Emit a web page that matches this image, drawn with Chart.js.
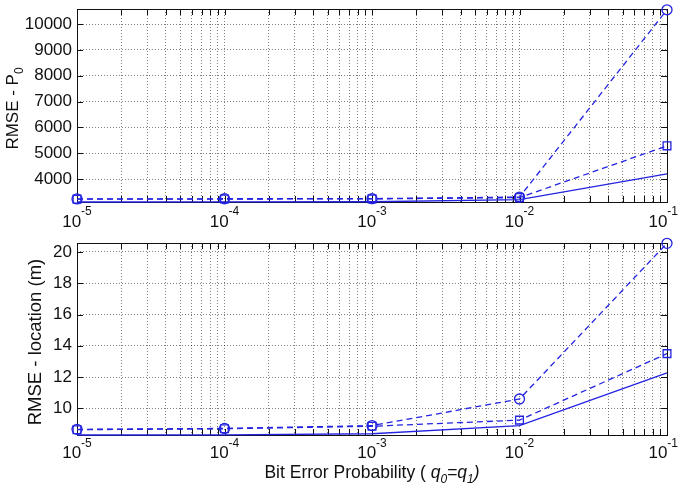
<!DOCTYPE html>
<html>
<head>
<meta charset="utf-8">
<script src="https://cdn.jsdelivr.net/npm/chart.js@4.4.0/dist/chart.umd.min.js"></script>
<style>
    body { margin: 0; background: #fff; }
    #wrap { position: relative; width: 679px; height: 488px; }
    .box { position: absolute; left: 0; width: 679px; }
</style>
</head>
<body>
<div id="wrap">
    <div class="box" style="top:0;height:234px"><canvas id="topChart"></canvas></div>
    <div class="box" style="top:234px;height:254px"><canvas id="bottomChart"></canvas></div>
</div>
<script>
// Données
const bitErrorProb = [1e-5, 1e-4, 1e-3, 1e-2, 1e-1];
const decades = [-5, -4, -3, -2, -1];
const decadeLabels = ['-5', '-4', '-3', '-2', '-1'];

// RMSE - P0
const p0Circle = [3240, 3245, 3250, 3310, 10550];
const p0Square = [3230, 3235, 3240, 3290, 5290];
const p0Solid = [3120, 3125, 3130, 3215, 4210];
const p0Range = [3120, 10580];
const p0Ticks = [4000, 5000, 6000, 7000, 8000, 9000, 10000];

// RMSE - location
const locCircle = [8.66, 8.72, 8.90, 10.6, 20.55];
const locSquare = [8.64, 8.70, 8.86, 9.25, 13.5];
const locSolid = [8.30, 8.31, 8.38, 8.9, 12.27];
const locRange = [8.30, 20.57];
const locTicks = [10, 12, 14, 16, 18, 20];

const blue = 'rgb(35,35,225)';
const fontFamily = "'Liberation Sans', Arial, sans-serif";

// Graduations log : 1..9 x 10^d
let xGrid = [];
for (let i = 0; i < decades.length; i++) {
    const d = decades[i];
    if (i === decades.length - 1) {
        xGrid.push(Math.pow(10, d));
    } else {
        for (let m = 1; m <= 9; m++) {
            xGrid.push(m * Math.pow(10, d));
        }
    }
}

// Texte avec indices / exposants (centré sur x, sans dépasser maxRight)
function drawRich(ctx, parts, x, y, maxRight) {
    let total = 0;
    for (let i = 0; i < parts.length; i++) {
        ctx.font = (parts[i].italic ? 'italic ' : '') + parts[i].size + 'px ' + fontFamily;
        parts[i].w = ctx.measureText(parts[i].text).width;
        total += parts[i].w;
    }
    let cx = x - total / 2;
    if (maxRight && cx + total > maxRight) {
        cx = maxRight - total;
    }
    for (let i = 0; i < parts.length; i++) {
        ctx.font = (parts[i].italic ? 'italic ' : '') + parts[i].size + 'px ' + fontFamily;
        ctx.fillText(parts[i].text, cx, y + (parts[i].dy || 0));
        cx += parts[i].w;
    }
}

// Cadre, graduations et textes façon MATLAB
const decorPlugin = {
    id: 'decor',
    beforeDatasetsDraw(chart) {
        const ctx = chart.ctx;
        const a = chart.chartArea;
        const xs = chart.scales.x;
        const ys = chart.scales.y;
        ctx.save();
        ctx.strokeStyle = '#111';
        ctx.lineWidth = 1;
        ctx.beginPath();
        xs.ticks.forEach(t => {
            const px = Math.round(xs.getPixelForValue(t.value)) + 0.5;
            ctx.moveTo(px, a.bottom);
            ctx.lineTo(px, a.bottom - 6);
            ctx.moveTo(px, a.top);
            ctx.lineTo(px, a.top + 6);
        });
        ys.ticks.forEach(t => {
            const py = Math.round(ys.getPixelForValue(t.value)) + 0.5;
            ctx.moveTo(a.left, py);
            ctx.lineTo(a.left + 6, py);
            ctx.moveTo(a.right, py);
            ctx.lineTo(a.right - 6, py);
        });
        ctx.stroke();
        ctx.strokeRect(Math.round(a.left) + 0.5, Math.round(a.top) + 0.5,
            Math.round(a.right - a.left), Math.round(a.bottom - a.top));
        ctx.restore();
    },
    afterDraw(chart, args, opts) {
        const ctx = chart.ctx;
        const a = chart.chartArea;
        const xs = chart.scales.x;
        ctx.save();
        ctx.fillStyle = '#111';
        ctx.textBaseline = 'alphabetic';
        ctx.textAlign = 'left';

        // Etiquettes 10^k
        for (let i = 0; i < decades.length; i++) {
            const px = xs.getPixelForValue(Math.pow(10, decades[i]));
            drawRich(ctx, [
                { text: '10', size: 17 },
                { text: decadeLabels[i], size: 12, dy: -opts.expRaise }
            ], px, a.bottom + opts.labelGap, chart.width - 1);
        }

        // Titre de l'axe Y
        ctx.translate(opts.yTitleX, (a.top + a.bottom) / 2 + 3);
        ctx.rotate(-Math.PI / 2);
        drawRich(ctx, opts.yTitle, 0, 6);
        ctx.setTransform(1, 0, 0, 1, 0, 0);

        // Titre de l'axe X
        if (opts.xTitle) {
            drawRich(ctx, opts.xTitle, (a.left + a.right) / 2, a.bottom + 43);
        }
        ctx.restore();
    }
};

function makeChart(id, circle, square, solid, range, ticks, pad, xHeight, decor) {
    return new Chart(document.getElementById(id), {
        type: 'line',
        data: {
            labels: bitErrorProb,
            datasets: [{
                data: circle,
                borderColor: blue,
                borderWidth: 1.3,
                borderDash: [6, 4],
                pointStyle: 'circle',
                pointRadius: 5,
                pointBorderWidth: 1.3,
                pointBorderColor: blue,
                pointBackgroundColor: 'rgba(0,0,0,0)',
                tension: 0,
                clip: false
            }, {
                data: square,
                borderColor: blue,
                borderWidth: 1.3,
                borderDash: [6, 4],
                pointStyle: 'rect',
                pointRadius: 5.5,
                pointBorderWidth: 1.3,
                pointBorderColor: blue,
                pointBackgroundColor: 'rgba(0,0,0,0)',
                tension: 0,
                clip: false
            }, {
                data: solid,
                borderColor: blue,
                borderWidth: 1.3,
                pointRadius: 0,
                tension: 0,
                clip: false
            }]
        },
        options: {
            responsive: true,
            maintainAspectRatio: false,
            animation: false,
            layout: { padding: { top: pad, right: 12, left: 0, bottom: 0 }, autoPadding: false },
            plugins: {
                legend: { display: false },
                tooltip: { enabled: false },
                decor: decor
            },
            scales: {
                x: {
                    type: 'logarithmic',
                    min: 1e-5,
                    max: 1e-1,
                    afterBuildTicks: s => { s.ticks = xGrid.map(v => ({ value: v })); },
                    afterFit: s => {
                        s.height = xHeight;
                        s.paddingLeft = 0;
                        s.paddingRight = 0;
                    },
                    ticks: { display: false },
                    grid: { color: 'rgba(0,0,0,0.5)', lineWidth: 1, drawTicks: false },
                    border: { display: false, dash: [1, 2] }
                },
                y: {
                    type: 'linear',
                    min: range[0],
                    max: range[1],
                    bounds: 'data',
                    afterBuildTicks: s => { s.ticks = ticks.map(v => ({ value: v })); },
                    afterFit: s => {
                        s.width = 77;
                        s.paddingTop = 0;
                        s.paddingBottom = 0;
                    },
                    ticks: {
                        font: { family: fontFamily, size: 17 },
                        color: '#111',
                        padding: 5,
                        callback: v => String(v)
                    },
                    grid: { color: 'rgba(0,0,0,0.5)', lineWidth: 1, drawTicks: false },
                    border: { display: false, dash: [1, 2] }
                }
            }
        },
        plugins: [decorPlugin]
    });
}

makeChart('topChart', p0Circle, p0Square, p0Solid, p0Range, p0Ticks, 9, 32, {
    labelGap: 25,
    expRaise: 12,
    yTitleX: 12,
    yTitle: [
        { text: 'RMSE - P', size: 17 },
        { text: '0', size: 12, dy: 5 }
    ],
    xTitle: null
});

makeChart('bottomChart', locCircle, locSquare, locSolid, locRange, locTicks, 9, 53, {
    labelGap: 23,
    expRaise: 11,
    yTitleX: 35,
    yTitle: [
        { text: 'RMSE - location (m)', size: 18.5 }
    ],
    xTitle: [
        { text: 'Bit Error Probability ( ', size: 17.5 },
        { text: 'q', size: 17.5, italic: true },
        { text: '0', size: 12, italic: true, dy: 5 },
        { text: '=q', size: 17.5, italic: true },
        { text: '1', size: 12, italic: true, dy: 5 },
        { text: ')', size: 17.5, italic: true }
    ]
});
</script>
</body>
</html>
